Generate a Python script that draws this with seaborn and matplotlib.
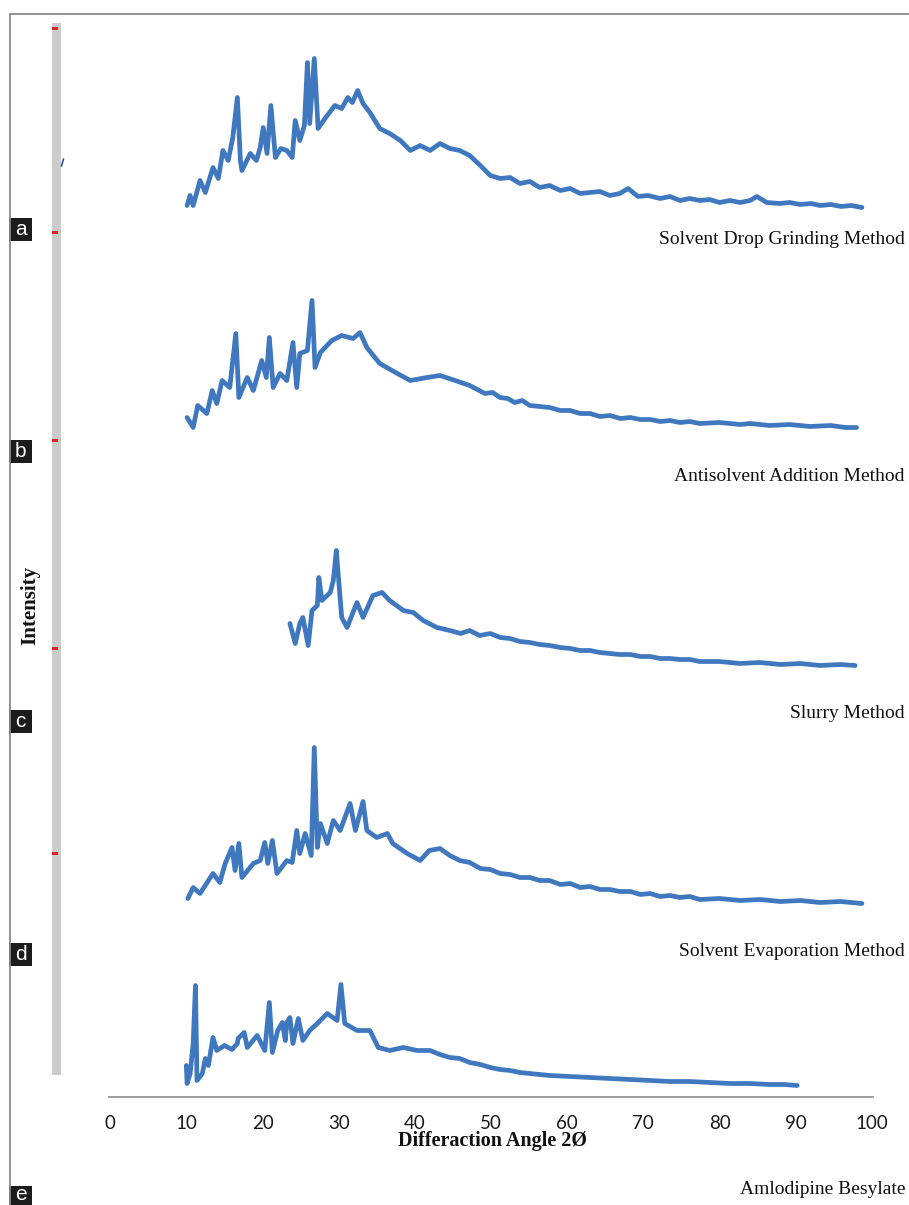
import numpy as np
import pandas as pd
import matplotlib
matplotlib.use("Agg")
import matplotlib.pyplot as plt
from matplotlib.patches import Rectangle
from matplotlib.lines import Line2D
import seaborn as sns

# ---------------- data (2theta in degrees, intensity in arbitrary units above each trace's baseline)
series_names = ["Solvent Drop Grinding Method", "Antisolvent Addition Method",
                "Slurry Method", "Solvent Evaporation Method", "Amlodipine Besylate"]
panel_letters = ["a", "b", "c", "d", "e"]

a_x = [10.1, 10.5, 10.9, 11.8, 12.5, 13.5, 14.2, 14.8, 15.5, 16.1, 16.7, 17.1, 17.3, 18.4, 19.2, 19.7,
       20.1, 20.6, 21.1, 21.7, 22.4, 23.2, 23.9, 24.3, 24.9, 25.5, 25.9, 26.2, 26.8, 27.3, 28.2, 29.5,
       30.4, 31.2, 31.8, 32.5, 33.2, 34.1, 35.4, 36.7, 38.1, 39.4, 40.7, 42.0, 43.3, 44.6, 45.9, 47.2,
       48.6, 49.9, 51.2, 52.5, 53.8, 55.1, 56.4, 57.7, 59.1, 60.4, 61.7, 63.0, 64.3, 65.6, 66.9, 68.0,
       69.3, 70.6, 72.2, 73.5, 74.8, 76.1, 77.4, 78.7, 80.0, 81.4, 82.7, 84.0, 84.9, 86.2, 87.9, 89.2,
       90.6, 92.0, 93.2, 94.6, 96.0, 97.3, 98.7]
a_y = [5, 15, 5, 30, 18, 43, 32, 60, 50, 73, 113, 50, 40, 57, 50, 63,
       83, 57, 105, 53, 62, 60, 53, 90, 70, 85, 148, 87, 152, 82, 92, 105,
       102, 113, 108, 120, 107, 98, 82, 77, 70, 60, 65, 60, 67, 62, 60, 55,
       45, 35, 32, 33, 27, 29, 23, 25, 20, 22, 17, 18, 19, 15, 17, 22,
       14, 15, 12, 14, 10, 12, 10, 11, 8, 10, 8, 10, 14, 8, 7, 8,
       6, 7, 5, 6, 4, 5, 3]

b_x = [10.1, 10.9, 11.5, 12.7, 13.4, 14.0, 14.7, 15.7, 16.5, 16.9, 18.0, 18.8, 19.9, 20.5, 20.9, 21.4,
       22.3, 23.2, 24.0, 24.5, 24.9, 25.9, 26.5, 26.9, 27.6, 29.1, 30.4, 31.9, 32.8, 33.7, 35.4, 37.7,
       39.4, 41.6, 43.3, 45.3, 47.2, 48.2, 49.2, 50.2, 51.2, 52.2, 53.1, 54.1, 55.1, 56.4, 57.7, 59.1,
       60.4, 61.7, 63.0, 64.3, 65.6, 67.0, 68.3, 69.6, 70.9, 72.2, 73.5, 74.8, 76.1, 77.4, 80.0, 82.7,
       84.0, 86.6, 89.2, 91.9, 94.6, 96.5, 98.0]
b_y = [13, 3, 25, 17, 40, 27, 50, 43, 97, 33, 53, 40, 70, 53, 93, 43,
       57, 50, 88, 43, 77, 80, 130, 63, 78, 90, 95, 92, 98, 83, 67, 57,
       50, 53, 55, 50, 45, 41, 37, 38, 33, 32, 28, 30, 25, 24, 23, 20,
       20, 17, 17, 14, 15, 12, 13, 11, 11, 9, 10, 8, 9, 7, 8, 6,
       7, 5, 6, 4, 5, 3, 3]

c_x = [23.6, 24.3, 24.9, 25.3, 26.0, 26.5, 27.2, 27.4, 27.8, 28.9, 29.3, 29.7, 29.9, 30.4, 31.1, 32.4,
       33.2, 34.5, 35.7, 36.7, 38.5, 39.8, 41.1, 42.9, 44.6, 46.0, 47.2, 48.5, 49.9, 51.2, 52.5, 53.8,
       55.1, 56.4, 57.7, 59.1, 60.4, 61.7, 63.0, 64.3, 65.6, 66.9, 68.3, 69.6, 70.9, 72.2, 73.5, 74.8,
       76.1, 77.4, 80.0, 82.7, 85.3, 88.0, 90.6, 93.2, 95.9, 97.8]
c_y = [44, 24, 44, 50, 22, 57, 62, 90, 67, 75, 87, 117, 97, 50, 40, 65,
       50, 72, 75, 67, 57, 55, 47, 40, 37, 34, 37, 32, 34, 30, 29, 26,
       25, 23, 22, 20, 19, 17, 17, 15, 14, 13, 13, 11, 11, 9, 9, 8,
       8, 6, 6, 4, 5, 3, 4, 2, 3, 2]

d_x = [10.2, 10.9, 11.8, 13.5, 14.4, 15.1, 16.0, 16.4, 16.9, 17.3, 18.8, 19.7, 20.3, 20.7, 21.3, 21.9,
       23.2, 23.9, 24.5, 24.9, 25.6, 26.4, 26.8, 27.2, 27.6, 28.5, 29.3, 30.2, 31.5, 32.2, 33.2, 33.7,
       35.0, 36.4, 37.1, 39.0, 40.7, 41.9, 43.3, 44.6, 45.9, 47.2, 48.6, 49.9, 51.2, 52.5, 53.8, 55.1,
       56.4, 57.7, 59.1, 60.4, 61.7, 63.0, 64.3, 65.6, 66.9, 68.3, 69.6, 70.9, 72.2, 73.5, 74.8, 76.1,
       77.4, 80.0, 82.7, 85.3, 88.0, 90.6, 93.2, 95.9, 98.7]
d_y = [7, 18, 12, 32, 23, 42, 58, 35, 62, 28, 42, 45, 63, 42, 65, 32,
       45, 43, 75, 52, 72, 50, 158, 58, 82, 62, 85, 75, 102, 75, 104, 75,
       68, 72, 62, 52, 45, 55, 57, 50, 45, 43, 37, 36, 32, 31, 28, 28,
       25, 25, 21, 22, 18, 19, 16, 16, 14, 14, 11, 12, 9, 10, 8, 9,
       6, 7, 5, 6, 4, 5, 3, 4, 2]

e_x = [10.0, 10.1, 10.5, 10.9, 11.2, 11.4, 12.1, 12.5, 12.9, 13.5, 14.0, 15.0, 16.0, 16.7, 16.8, 17.6,
       18.0, 19.3, 20.3, 20.9, 21.3, 22.0, 22.6, 23.0, 23.2, 23.6, 24.0, 24.7, 25.3, 26.2, 27.2, 28.5,
       29.8, 30.3, 30.8, 32.4, 34.1, 35.2, 36.7, 38.5, 40.3, 42.0, 43.3, 44.6, 45.9, 47.2, 48.6, 49.9,
       51.2, 52.5, 53.8, 55.1, 57.7, 60.4, 63.0, 65.6, 68.3, 70.9, 73.5, 76.1, 78.7, 81.4, 84.0, 86.6,
       88.5, 90.2]
e_y = [22, 4, 14, 44, 102, 7, 14, 29, 22, 50, 37, 42, 38, 44, 49, 55,
       40, 52, 37, 85, 35, 57, 65, 47, 65, 70, 44, 69, 47, 57, 64, 74,
       67, 103, 64, 57, 57, 40, 37, 40, 37, 37, 33, 30, 29, 25, 23, 20,
       18, 17, 15, 14, 12, 11, 10, 9, 8, 7, 6, 6, 5, 4, 4, 3,
       3, 2]

x_ticks = [0, 10, 20, 30, 40, 50, 60, 70, 80, 90, 100]
x_label = "Differaction Angle 2Ø"
y_label = "Intensity"

# ---------------- layout (pixel helpers)
W, H = 909, 1205
offsets = [886, 666, 429, 191, 9]          # vertical stacking of traces
label_y = [240, 477, 714, 951, 1190]       # pixel rows of the method labels
box_y = [218, 440, 710, 943, 1186]         # pixel rows (top) of the letter boxes
letter_base = [235, 457, 727, 960, 1200]   # pixel rows of the letter baselines
red_tick_y = [28, 232, 440, 648, 853]
LINE_C = "#3f78bf"

sns.set_theme(style="white")
plt.rcParams["font.family"] = ["Liberation Serif", "DejaVu Serif"]

fig = plt.figure(figsize=(W / 100, H / 100), dpi=100)

def fx(x):
    return x / W

def fy(y):
    return 1 - y / H

ax = fig.add_axes([fx(109), fy(1096.5), (873 - 109) / W, (1096.5 - 14) / H])

frames = []
for name, xs, ys, off in zip(series_names, [a_x, b_x, c_x, d_x, e_x],
                             [a_y, b_y, c_y, d_y, e_y], offsets):
    frames.append(pd.DataFrame({"angle": xs, "level": np.array(ys, float) + off, "sample": name}))
df = pd.concat(frames, ignore_index=True)

sns.lineplot(data=df, x="angle", y="level", units="sample", estimator=None, sort=False,
             color=LINE_C, linewidth=3.4, ax=ax, legend=False)

ax.set_xlim(-0.15, 100.15)
ax.set_ylim(0, 1096.5 - 14)
ax.set_xticks(x_ticks)
ax.set_xticklabels([str(t) for t in x_ticks], fontfamily="Lato", fontsize=13.5, color="#1a1a1a")
ax.tick_params(axis="x", length=0, pad=13.5)
ax.set_yticks([])
ax.set_xlabel("")
ax.set_ylabel("")
for s in ["top", "left", "right"]:
    ax.spines[s].set_visible(False)
ax.spines["bottom"].set_color("#8c8c8c")
ax.spines["bottom"].set_linewidth(1.2)
ax.patch.set_alpha(0)

# axis titles
fig.text(fx(492), fy(1141), x_label, ha="center", va="center", fontsize=14.5,
         fontweight="bold", color="#111111")
fig.text(fx(30), fy(605), y_label, ha="center", va="center", rotation=90, fontsize=15,
         fontweight="bold", color="#111111")

# method labels
for name, y in zip(series_names, label_y):
    fig.text(fx(905), fy(y), name, ha="right", va="center", fontsize=14, color="#111111")

# outer frame lines
fig.add_artist(Line2D([fx(10), fx(10)], [fy(14), fy(1205)], color="#8a8a8a", lw=1.3,
                      transform=fig.transFigure))
fig.add_artist(Line2D([fx(10), fx(909)], [fy(14), fy(14)], color="#8a8a8a", lw=1.3,
                      transform=fig.transFigure))

# grey vertical bar with red marks
fig.add_artist(Rectangle((fx(52), fy(1075)), 9 / W, (1075 - 23) / H, transform=fig.transFigure,
                         facecolor="#cccccc", edgecolor="none"))
for y in red_tick_y:
    fig.add_artist(Rectangle((fx(52), fy(y + 1.5)), 6 / W, 3 / H, transform=fig.transFigure,
                             facecolor="#e3231f", edgecolor="none"))
fig.add_artist(Line2D([fx(61.5), fx(63.5)], [fy(166), fy(159)], color="#2f4fa8", lw=1.2,
                      transform=fig.transFigure))

# letter boxes
for letter, y, yb in zip(panel_letters, box_y, letter_base):
    fig.add_artist(Rectangle((fx(9), fy(y + 23)), 23 / W, 23 / H, transform=fig.transFigure,
                             facecolor="#1c1c1c", edgecolor="none"))
    fig.text(fx(20.5), fy(yb), letter, ha="center", va="baseline", color="white",
             fontsize=15, family=["Liberation Sans", "DejaVu Sans"])

fig.savefig("out.png", dpi=100)
